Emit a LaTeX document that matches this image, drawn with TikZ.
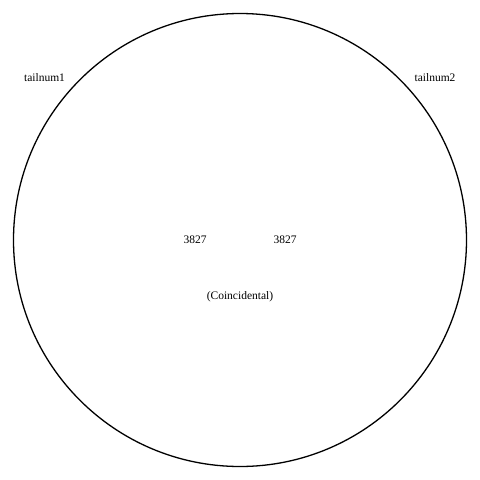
\documentclass[tikz,border=0pt]{standalone}
\usepackage{fontspec}
\setmainfont{Liberation Serif}
\begin{document}
\begin{tikzpicture}[x=1pt,y=-1pt,
  lbl/.style={font=\fontsize{11.5}{13}\selectfont, inner sep=0pt}]
\useasboundingbox (0,0) rectangle (480,480);
\node[draw, circle, line width=1.3pt, minimum size=453pt, inner sep=0pt] (venn) at (240,240) {};
\node[lbl] (n1) at (44.5,78) {tailnum1};
\node[lbl] (n2) at (435,78) {tailnum2};
\node[lbl] (a) at (195,240) {3827};
\node[lbl] (b) at (285,240) {3827};
\node[lbl] (c) at (240,297) {(Coincidental)};
\end{tikzpicture}
\end{document}
